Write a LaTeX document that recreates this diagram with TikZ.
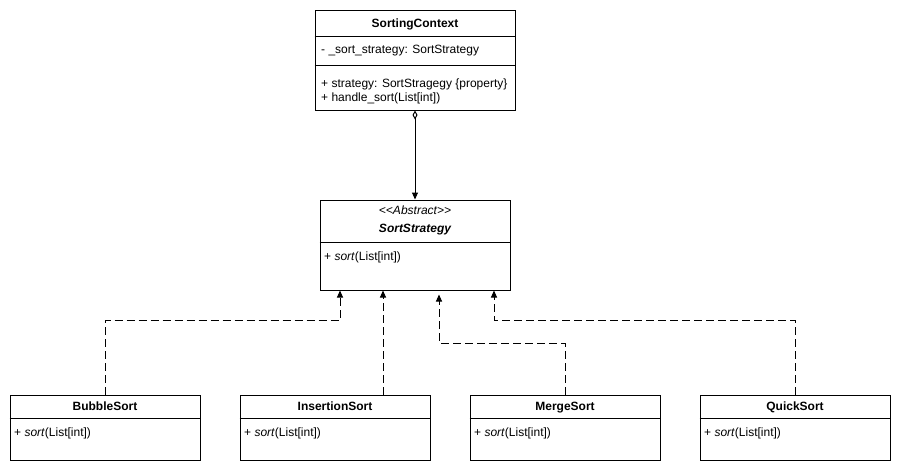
\documentclass[tikz,border=0pt]{standalone}
\usepackage{fontspec}
\setmainfont{Liberation Sans}
\newfontfamily\stereofont{Liberation Sans}
\usetikzlibrary{arrows.meta}

\newcommand{\umlsize}{\fontsize{12}{14}\selectfont}

\tikzset{
    umlclass/.style={draw, line width=1pt, inner sep=0pt, minimum width=#1},
    umltext/.style={inner sep=0pt, text height=10pt, text depth=2pt, font=\umlsize},
    umltitle/.style={umltext, font=\umlsize\bfseries},
    umlmember/.style={umltext, anchor=west},
    realize/.style={line width=1pt, dash pattern=on 8pt off 4pt, -{Triangle[length=7pt,width=6pt]}},
    aggregate/.style={line width=1pt, {Diamond[open,length=9pt,width=5pt]}-{Triangle[length=7pt,width=6pt]}},
}

\begin{document}
\begin{tikzpicture}[x=1pt, y=-1pt]
        \useasboundingbox (0,0) rectangle (901,471);
        \node (ctx) [umlclass=200pt, minimum height=100pt] at (415,60) {};
        \draw [line width=1pt] ([yshift=-27pt]ctx.north west) -- ([yshift=-27pt]ctx.north east);
        \draw [line width=1pt] ([yshift=-56pt]ctx.north west) -- ([yshift=-56pt]ctx.north east);
        \node (ctxname) [umltitle] at (415,23.5) {SortingContext};
        \node (ctxattr) [umlmember] at (321,49.5) {- \_sort\_strategy: SortStrategy};
        \node (ctxprop) [umlmember] at (321,83.5) {+ strategy: SortStragegy \{property\}};
        \node (ctxhandle) [umlmember] at (321,97.5) {+ handle\_sort(List[int])};

        \node (strat) [umlclass=190pt, minimum height=90pt] at (415,245) {};
        \draw [line width=1pt] ([yshift=-43pt]strat.north west) -- ([yshift=-43pt]strat.north east);
        \node (stratstereo) [umltext, font=\umlsize\stereofont\itshape] at (415,210.5) {<<Abstract>>};
        \node (stratname) [umltitle, font=\umlsize\bfseries\itshape] at (415,228.5) {SortStrategy};
        \node (stratsort) [umlmember] at (324,256.5) {+ \textit{sort}(List[int])};

        \foreach \cls/\name/\cx in {bubble/BubbleSort/105, insert/InsertionSort/335, merge/MergeSort/565, quick/QuickSort/795} {
            \node (\cls) [umlclass=190pt, minimum height=65pt] at (\cx,427.5) {};
            \draw [line width=1pt] ([yshift=-24pt]\cls.north west) -- ([yshift=-24pt]\cls.north east);
            \node (\cls name) [umltitle] at (\cx,406.5) {\name};
            \node (\cls sort) [umlmember] at (\cx-91,432.5) {+ \textit{sort}(List[int])};
        }

        \draw [aggregate] (ctx.south) -- (strat.north);

        \coordinate (b1) at (105,320);
        \coordinate (b2) at (340,320);
        \coordinate (i1) at (383,320);
        \coordinate (m1) at (565,343);
        \coordinate (m2) at (439,343);
        \coordinate (q1) at (795,320);
        \coordinate (q2) at (494,320);
        \draw [realize] (bubble.north) -- (b1) -- (b2) -- (b2 |- strat.south);
        \draw [realize] (i1 |- insert.north) -- (i1 |- strat.south);
        \draw [realize, shorten >=4pt] (merge.north) -- (m1) -- (m2) -- (m2 |- strat.south);
        \draw [realize] (quick.north) -- (q1) -- (q2) -- (q2 |- strat.south);
    \end{tikzpicture}
\end{document}
